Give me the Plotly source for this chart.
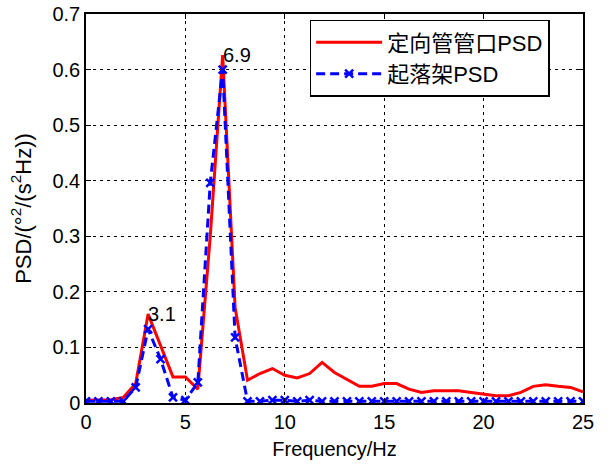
import plotly.graph_objects as go

freq_step = 0.625
n_points = 41
freq = [i * freq_step for i in range(n_points)]

red_psd = [0.005, 0.005, 0.006, 0.010, 0.035, 0.160, 0.104, 0.047, 0.047, 0.025,
           0.300, 0.626, 0.172, 0.041, 0.053, 0.062, 0.050, 0.045, 0.053, 0.073,
           0.055, 0.043, 0.030, 0.030, 0.035, 0.035, 0.025, 0.019, 0.022, 0.022,
           0.022, 0.019, 0.016, 0.013, 0.013, 0.019, 0.030, 0.033, 0.030, 0.028,
           0.020]
blue_psd = [0.003, 0.003, 0.003, 0.003, 0.028, 0.133, 0.079, 0.010, 0.005, 0.037,
            0.396, 0.600, 0.118, 0.003, 0.003, 0.005, 0.005, 0.003, 0.005, 0.003,
            0.003, 0.003, 0.003, 0.003, 0.003, 0.003, 0.003, 0.003, 0.003, 0.003,
            0.003, 0.003, 0.003, 0.003, 0.003, 0.003, 0.003, 0.003, 0.003, 0.003,
            0.003]
names = ["定向管管口PSD", "起落架PSD"]
peak_labels = [(3.125, 0.160, "3.1"), (6.875, 0.626, "6.9")]

FONT = "Liberation Sans, Arial, Noto Sans CJK SC, sans-serif"
FS = 20

fig = go.Figure()
fig.add_trace(go.Scatter(x=freq, y=red_psd, mode="lines", name=names[0],
                         line=dict(color="#ff0000", width=3)))
fig.add_trace(go.Scatter(x=freq, y=blue_psd, mode="lines+markers", name=names[1],
                         line=dict(color="#0000ff", width=3, dash="9px,5px"),
                         marker=dict(symbol="x-thin", size=8,
                                     line=dict(color="#0000ff", width=2.5))))

for x, y, t in peak_labels:
    fig.add_annotation(x=x, y=y, text=t, showarrow=False, xanchor="left",
                       yanchor="middle", xshift=-2, yshift=0,
                       font=dict(family=FONT, size=FS, color="black"))

axis_common = dict(showline=True, linecolor="black", linewidth=1.5, mirror="ticks",
                   ticks="inside", ticklen=5, tickcolor="black", tickwidth=1,
                   showgrid=True, gridcolor="black", gridwidth=1, griddash="3px,4px",
                   zeroline=False, automargin=False,
                   tickfont=dict(family=FONT, size=FS, color="black"))

fig.update_xaxes(range=[0, 25], dtick=5, tick0=0,
                 title=dict(text="Frequency/Hz", font=dict(family=FONT, size=FS, color="black"),
                            standoff=10),
                 **axis_common)
fig.update_yaxes(range=[0, 0.7], dtick=0.1, tick0=0,
                 title=dict(text="PSD/(°<sup>2</sup>/(s<sup>2</sup>Hz))",
                            font=dict(family=FONT, size=22, color="black"), standoff=15),
                 **axis_common)

fig.update_layout(
    width=613, height=468,
    margin=dict(l=86, r=30, t=14, b=65),
    plot_bgcolor="white", paper_bgcolor="white",
    font=dict(family=FONT, color="black"),
    legend=dict(x=0.45, y=0.985, xanchor="left", yanchor="top",
                bgcolor="white", bordercolor="black", borderwidth=1.5,
                font=dict(family=FONT, size=22, color="black"),
                itemwidth=66, tracegroupgap=0),
    showlegend=True,
)

fig.write_html("out.html", config={"displayModeBar": False},
               post_script="document.body.style.margin='0';")
